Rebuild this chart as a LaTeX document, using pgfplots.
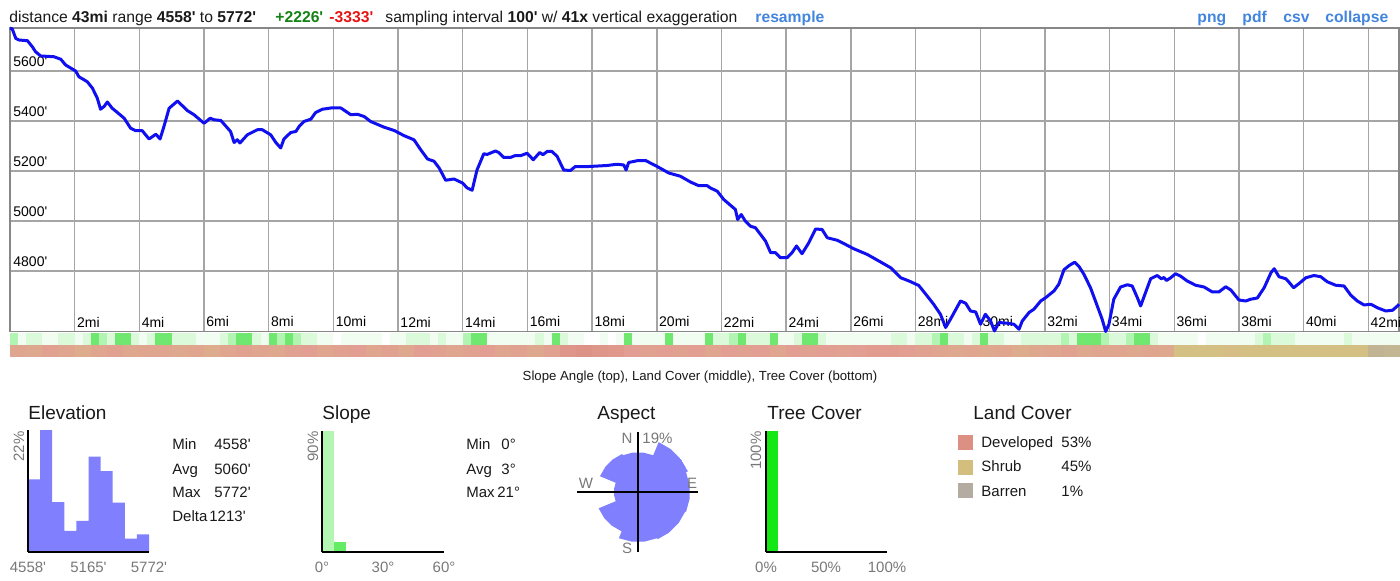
\documentclass[border=0pt]{standalone}
\usepackage{pgfplots}
\pgfplotsset{compat=1.18}
\usepgfplotslibrary{polar}
\usepackage{fontspec}
\setmainfont{Liberation Sans}[Ligatures=TeXOff]

\definecolor{txt}{RGB}{25,25,25}
\definecolor{gridgray}{RGB}{165,165,165}
\definecolor{framegray}{RGB}{135,135,135}
\definecolor{profile}{RGB}{15,15,240}
\definecolor{linkblue}{RGB}{66,133,222}
\definecolor{upgreen}{RGB}{20,130,20}
\definecolor{downred}{RGB}{232,20,20}
\definecolor{histblue}{RGB}{128,128,255}
\definecolor{labgray}{RGB}{120,120,120}
\definecolor{slopeA}{RGB}{178,246,178}
\definecolor{slopeB}{RGB}{100,236,100}
\definecolor{slopeC}{RGB}{50,205,50}
\definecolor{treegreen}{RGB}{20,232,20}
\definecolor{developed}{RGB}{220,143,131}
\definecolor{shrub}{RGB}{211,190,126}
\definecolor{barren}{RGB}{180,172,160}

\newcommand\fs[1]{\fontsize{#1}{#1}\selectfont}

% axes are placed with absolute lengths (1px = 0.5pt, y downwards)
\pgfplotsset{
  panel/.style={scale only axis, axis x line=bottom, axis y line=left,
    axis line style={-, black, line width=1pt}, ticks=none, axis on top},
  strip/.style={anchor=north west, scale only axis, width=694.5pt, height=6pt,
    xmin=0, xmax=42.95, ymin=-1, ymax=1, hide axis, clip=false},
  stripmarks/.style={scatter, only marks, mark=|, mark size=3pt,
    point meta=explicit,
    scatter/use mapped color={draw=mapped color},
    mark options={line width=#1}},
}

\begin{document}
\begin{tikzpicture}[x=0.5pt, y=-0.5pt, font=\fs{7.5}, text=txt]
\useasboundingbox (0,0) rectangle (1400,581);

% ---------- header line ----------
\begin{scope}[font=\fs{7.85}]
\node[anchor=base west, inner sep=0] at (9,23) {distance \textbf{43mi} range \textbf{4558'} to \textbf{5772'}};
\node[anchor=base west, inner sep=0, text=upgreen] at (275,23) {\textbf{+2226'}};
\node[anchor=base west, inner sep=0, text=downred] at (329,23) {\textbf{-3333'}};
\node[anchor=base west, inner sep=0] at (385,23) {sampling interval \textbf{100'} w/ \textbf{41x} vertical exaggeration};
\node[anchor=base west, inner sep=0, text=linkblue] at (755,23) {\textbf{resample}};
\node[anchor=base west, inner sep=0, text=linkblue] at (1197,23) {\textbf{png}};
\node[anchor=base west, inner sep=0, text=linkblue] at (1242,23) {\textbf{pdf}};
\node[anchor=base west, inner sep=0, text=linkblue] at (1283,23) {\textbf{csv}};
\node[anchor=base west, inner sep=0, text=linkblue] at (1325,23) {\textbf{collapse}};
\end{scope}

\begin{scope}[x={(1cm,0)}, y={(0,1cm)}]
% ---------- elevation profile ----------
\begin{axis}[
  at={(5pt,-14pt)}, anchor=north west, scale only axis,
  width=694.5pt, height=151.75pt,
  xmin=0, xmax=42.95, ymin=4558, ymax=5772,
  clip=false,
  axis line style={draw=framegray, line width=0.8pt},
  grid=major, major grid style={draw=gridgray, line width=0.7pt},
  tick style={draw=none},
  xtick={2,4,...,42},
  xticklabels={2mi,4mi,6mi,8mi,10mi,12mi,14mi,16mi,18mi,20mi,22mi,24mi,26mi,28mi,30mi,32mi,34mi,36mi,38mi,40mi,42mi},
  ytick={4800,5000,5200,5400,5600},
  yticklabels={4800',5000',5200',5400',5600'},
  xticklabel style={anchor=south west, inner xsep=1pt, inner ysep=2pt, font=\fs{7}, text=black},
  yticklabel style={anchor=south west, inner xsep=1.5pt, inner ysep=2pt, font=\fs{7}, text=black},
]
\addplot[profile, line width=1.5pt, line join=round] table[x=mi, y=ft] {
mi ft
0.00 5772
0.07 5768
0.18 5730
0.28 5724
0.54 5721
0.69 5697
0.79 5677
0.95 5660
1.36 5657
1.57 5647
1.72 5624
2.03 5600
2.13 5577
2.39 5557
2.55 5531
2.70 5491
2.80 5447
2.91 5458
3.01 5476
3.16 5451
3.32 5434
3.53 5411
3.73 5371
3.89 5361
4.09 5361
4.30 5328
4.51 5347
4.64 5328
4.76 5378
4.92 5451
5.18 5480
5.48 5442
5.69 5425
6.00 5391
6.19 5411
6.31 5405
6.52 5402
6.82 5358
6.93 5314
7.03 5325
7.11 5312
7.34 5345
7.65 5365
7.80 5365
8.06 5345
8.22 5314
8.37 5292
8.47 5328
8.68 5354
8.84 5358
8.94 5378
9.09 5398
9.30 5407
9.45 5434
9.66 5447
9.92 5452
10.23 5452
10.54 5425
10.74 5427
10.95 5418
11.15 5398
11.57 5375
11.88 5362
12.19 5341
12.49 5325
12.70 5285
12.91 5248
13.11 5239
13.27 5212
13.47 5163
13.73 5168
13.99 5152
14.14 5132
14.29 5123
14.44 5204
14.65 5269
14.75 5266
15.01 5280
15.11 5274
15.27 5254
15.47 5254
15.63 5262
15.78 5261
15.99 5271
16.18 5245
16.38 5274
16.48 5265
16.61 5278
16.76 5278
16.92 5258
17.02 5231
17.12 5204
17.33 5202
17.48 5218
17.79 5217
18.05 5219
18.46 5222
18.77 5227
18.98 5224
19.05 5204
19.13 5234
19.39 5241
19.65 5242
20.01 5218
20.37 5192
20.73 5179
21.04 5156
21.30 5141
21.56 5141
21.66 5132
21.87 5119
22.07 5086
22.43 5046
22.50 5006
22.61 5026
22.74 4999
22.90 4979
23.05 4973
23.36 4920
23.52 4873
23.67 4873
23.82 4853
24.03 4853
24.18 4873
24.32 4900
24.49 4869
24.70 4913
24.91 4968
25.11 4966
25.27 4933
25.58 4923
25.78 4910
26.09 4889
26.51 4866
26.92 4836
27.23 4813
27.54 4773
27.80 4760
28.10 4742
28.36 4700
28.56 4667
28.77 4627
28.93 4574
29.08 4607
29.39 4680
29.55 4671
29.70 4640
29.86 4636
30.01 4587
30.16 4627
30.32 4600
30.44 4560
30.58 4594
30.84 4591
31.04 4587
31.20 4567
31.30 4600
31.51 4634
31.66 4647
31.87 4680
32.02 4693
32.28 4720
32.43 4747
32.59 4805
32.74 4821
32.92 4835
33.05 4819
33.21 4786
33.41 4733
33.62 4660
33.77 4607
33.88 4558
33.98 4587
34.13 4687
34.34 4736
34.55 4745
34.70 4740
34.86 4693
34.96 4660
35.11 4713
35.27 4769
35.47 4782
35.60 4769
35.68 4774
35.76 4762
35.89 4773
36.04 4789
36.20 4779
36.40 4760
36.66 4743
36.92 4736
37.18 4716
37.38 4716
37.59 4737
37.75 4724
38.00 4684
38.21 4680
38.36 4687
38.57 4692
38.78 4733
38.99 4793
39.09 4809
39.24 4777
39.45 4769
39.55 4755
39.69 4733
39.86 4750
40.07 4773
40.32 4782
40.53 4777
40.73 4757
40.99 4743
41.25 4740
41.46 4703
41.66 4680
41.87 4664
42.08 4667
42.28 4653
42.54 4640
42.75 4643
42.90 4660
42.95 4667
};
\end{axis}

% ---------- slope angle strip (quarter-mile cells, steepness class 0-4) ----------
\begin{axis}[strip, at={(5pt,-166.5pt)},
  colormap={slopemap}{rgb255(0cm)=(255,255,255) rgb255(1cm)=(240,253,240) rgb255(2cm)=(218,250,218) rgb255(3cm)=(178,245,178) rgb255(4cm)=(112,232,112)},
  point meta min=0, point meta max=4,
]
\addplot[stripmarks=4.15pt] table[x=mi, y expr=0, meta=s] {
mi s
0.125 3
0.375 1
0.625 2
0.875 2
1.125 1
1.375 1
1.625 2
1.875 2
2.125 1
2.375 2
2.625 4
2.875 3
3.125 2
3.375 4
3.625 4
3.875 2
4.125 1
4.375 2
4.625 4
4.875 4
5.125 2
5.375 2
5.625 2
5.875 1
6.125 1
6.375 1
6.625 2
6.875 3
7.125 4
7.375 4
7.625 2
7.875 1
8.125 4
8.375 3
8.625 4
8.875 3
9.125 2
9.375 2
9.625 1
9.875 1
10.125 0
10.375 1
10.625 1
10.875 1
11.125 1
11.375 1
11.625 0
11.875 1
12.125 1
12.375 2
12.625 2
12.875 2
13.125 1
13.375 2
13.625 1
13.875 1
14.125 3
14.375 4
14.625 4
14.875 1
15.125 1
15.375 1
15.625 1
15.875 1
16.125 1
16.375 2
16.625 1
16.875 4
17.125 2
17.375 1
17.625 1
17.875 0
18.125 0
18.375 1
18.625 0
18.875 1
19.125 4
19.375 1
19.625 1
19.875 1
20.125 1
20.375 4
20.625 1
20.875 1
21.125 1
21.375 1
21.625 4
21.875 2
22.125 2
22.375 3
22.625 4
22.875 2
23.125 2
23.375 2
23.625 4
23.875 1
24.125 1
24.375 2
24.625 4
24.875 4
25.125 2
25.375 1
25.625 1
25.875 1
26.125 1
26.375 1
26.625 1
26.875 1
27.125 1
27.375 2
27.625 2
27.875 1
28.125 2
28.375 2
28.625 3
28.875 4
29.125 2
29.375 2
29.625 1
29.875 2
30.125 4
30.375 2
30.625 2
30.875 1
31.125 1
31.375 2
31.625 2
31.875 2
32.125 2
32.375 2
32.625 3
32.875 2
33.125 4
33.375 4
33.625 4
33.875 3
34.125 2
34.375 2
34.625 3
34.875 4
35.125 4
35.375 2
35.625 1
35.875 1
36.125 1
36.375 1
36.625 1
36.875 0
37.125 1
37.375 1
37.625 1
37.875 1
38.125 1
38.375 1
38.625 2
38.875 3
39.125 2
39.375 2
39.625 2
39.875 1
40.125 1
40.375 1
40.625 1
40.875 1
41.125 1
41.375 2
41.625 1
41.875 1
42.125 1
42.375 1
42.625 1
42.875 1
};
\end{axis}

% ---------- land cover strip (0 dense developed .. 1 developed .. 2 shrub .. 3 barren) ----------
\begin{axis}[strip, at={(5pt,-172.5pt)},
  colormap={landmap}{rgb255(0cm)=(214,128,118) rgb255(1cm)=(226,158,146) rgb255(2cm)=(213,192,132) rgb255(3cm)=(178,172,160)},
  point meta min=0, point meta max=3,
]
\addplot[stripmarks=8.2pt] table[x=mi, y expr=0, meta=c] {
mi c
0.25 1.2
0.75 1.3
1.25 1.1
1.75 1.2
2.25 1.4
2.75 1.2
3.25 1.1
3.75 1.3
4.25 1.2
4.75 1.2
5.25 1.3
5.75 1.2
6.25 1.4
6.75 1.2
7.25 1.1
7.75 1.2
8.25 1.3
8.75 1.1
9.25 1.0
9.75 1.2
10.25 1.1
10.75 1.0
11.25 1.2
11.75 1.1
12.25 1.3
12.75 1.0
13.25 1.1
13.75 1.2
14.25 1.1
14.75 1.0
15.25 1.2
15.75 1.1
16.25 1.3
16.75 1.1
17.25 0.7
17.75 0.6
18.25 0.7
18.75 0.8
19.25 1.0
19.75 1.1
20.25 1.0
20.75 1.1
21.25 1.0
21.75 1.2
22.25 1.0
22.75 1.1
23.25 1.0
23.75 1.2
24.25 1.0
24.75 1.1
25.25 1.0
25.75 1.1
26.25 1.0
26.75 0.9
27.25 0.9
27.75 1.0
28.25 1.1
28.75 1.2
29.25 1.3
29.75 1.2
30.25 1.3
30.75 1.2
31.25 1.4
31.75 1.3
32.25 1.2
32.75 1.1
33.25 1.3
33.75 1.2
34.25 1.2
34.75 1.3
35.25 1.2
35.75 1.3
36.25 2.0
36.75 2.0
37.25 2.0
37.75 1.9
38.25 2.0
38.75 2.0
39.25 2.0
39.75 2.0
40.25 2.0
40.75 2.0
41.25 2.0
41.75 2.0
42.25 2.6
42.75 2.5
};
\end{axis}

% ---------- elevation histogram ----------
\begin{axis}[panel, at={(14pt,-276pt)}, anchor=south west,
  width=60.5pt, height=61pt, xmin=0, xmax=10, ymin=0, ymax=22]
\addplot[ybar interval, fill=histblue, draw=none] coordinates {
(0,13.1) (1,22) (2,9.0) (3,3.8) (4,5.6) (5,17.2) (6,14.6) (7,8.9) (8,2.4) (9,3.2) (10,3.2)};
\end{axis}

% ---------- slope histogram ----------
\begin{axis}[panel, at={(161pt,-276pt)}, anchor=south west,
  width=61pt, height=60.5pt, xmin=0, xmax=60, ymin=0, ymax=90]
\addplot[ybar interval, fill=slopeA, draw=none] coordinates {(0,90) (6,90)};
\addplot[ybar interval, fill=slopeB, draw=none] coordinates {(6,7.5) (12,7.5)};
\addplot[ybar interval, fill=slopeC, draw=none] coordinates {(12,0.7) (18,0.7)};
\end{axis}

% ---------- aspect rose ----------
\begin{polaraxis}[at={(319pt,-246pt)}, anchor=center, scale only axis,
  width=54pt, height=54pt, ymin=0, ymax=19, hide axis]
% sectors of 45 degrees, radius = share of each direction (%)
\addplot[fill=histblue, draw=none] coordinates {
(112.5,14) (97.5,14) (82.5,14) (67.5,14)
(67.5,19) (52.5,19) (37.5,19) (22.5,19)
(22.5,18.3) (7.5,18.3) (-7.5,18.3) (-22.5,18.3)
(-22.5,18) (-37.5,18) (-52.5,18) (-67.5,18)
(-67.5,17.6) (-82.5,17.6) (-97.5,17.6) (-112.5,17.6)
(-112.5,15) (-127.5,15) (-142.5,15) (-157.5,15)
(-157.5,8.5) (-172.5,8.5) (-187.5,8.5) (-202.5,8.5)
(-202.5,14.5) (-217.5,14.5) (-232.5,14.5) (-247.5,14.5)
};
\end{polaraxis}

% ---------- tree cover histogram ----------
\begin{axis}[panel, at={(383pt,-276pt)}, anchor=south west,
  width=60.5pt, height=60.5pt, xmin=0, xmax=100, ymin=0, ymax=100]
\addplot[ybar interval, fill=treegreen, draw=none] coordinates {(0,100) (10,100)};
\end{axis}
\end{scope}

\node[anchor=base, font=\fs{6.6}] at (700,381) {Slope Angle (top), Land Cover (middle), Tree Cover (bottom)};

% ---------- panel texts ----------
\begin{scope}[font=\fs{9.5}]
\node[anchor=base west, inner sep=0] at (28,420) {Elevation};
\node[anchor=base west, inner sep=0] at (322,420) {Slope};
\node[anchor=base west, inner sep=0] at (597,420) {Aspect};
\node[anchor=base west, inner sep=0] at (767,420) {Tree Cover};
\node[anchor=base west, inner sep=0] at (973,420) {Land Cover};
\end{scope}

\node[rotate=90, anchor=east, inner sep=0, text=labgray] at (19,431) {22\%};
\node[text=labgray] at (28,567) {4558'};
\node[text=labgray] at (88.5,567) {5165'};
\node[text=labgray] at (149,567) {5772'};
\node[anchor=base west, inner sep=0] at (172,450) {Min};
\node[anchor=base west, inner sep=0] at (214,450) {4558'};
\node[anchor=base west, inner sep=0] at (172,474) {Avg};
\node[anchor=base west, inner sep=0] at (214,474) {5060'};
\node[anchor=base west, inner sep=0] at (172,498) {Max};
\node[anchor=base west, inner sep=0] at (214,498) {5772'};
\node[anchor=base west, inner sep=0] at (172,522) {Delta};
\node[anchor=base west, inner sep=0] at (209,522) {1213'};

\node[rotate=90, anchor=east, inner sep=0, text=labgray] at (313,431) {90\%};
\node[text=labgray] at (322,567) {0°};
\node[text=labgray] at (383,567) {30°};
\node[text=labgray] at (444,567) {60°};
\node[anchor=base west, inner sep=0] at (466,450) {Min};
\node[anchor=base west, inner sep=0] at (501,450) {0°};
\node[anchor=base west, inner sep=0] at (466,474) {Avg};
\node[anchor=base west, inner sep=0] at (501,474) {3°};
\node[anchor=base west, inner sep=0] at (466,498) {Max};
\node[anchor=base west, inner sep=0] at (497,498) {21°};

\draw[black, line width=1pt] (577,492) -- (698,492);
\draw[black, line width=1pt] (638,432) -- (638,552);
\node[text=labgray] at (627,438) {N};
\node[anchor=west, inner sep=0, text=labgray] at (642,438) {19\%};
\node[text=labgray] at (586,483) {W};
\node[text=labgray] at (692,483) {E};
\node[text=labgray] at (627,548) {S};

\node[rotate=90, anchor=east, inner sep=0, text=labgray] at (756,431) {100\%};
\node[text=labgray] at (766,567) {0\%};
\node[text=labgray] at (826,567) {50\%};
\node[text=labgray] at (887,567) {100\%};

% ---------- land cover legend ----------
\fill[developed] (958,435) rectangle (973,450);
\fill[shrub] (958,460) rectangle (973,475);
\fill[barren] (958,483) rectangle (973,498);
\node[anchor=base west, inner sep=0] at (981,448) {Developed};
\node[anchor=base west, inner sep=0] at (1061,448) {53\%};
\node[anchor=base west, inner sep=0] at (981,472) {Shrub};
\node[anchor=base west, inner sep=0] at (1061,472) {45\%};
\node[anchor=base west, inner sep=0] at (981,496) {Barren};
\node[anchor=base west, inner sep=0] at (1061,496) {1\%};
\end{tikzpicture}
\end{document}
